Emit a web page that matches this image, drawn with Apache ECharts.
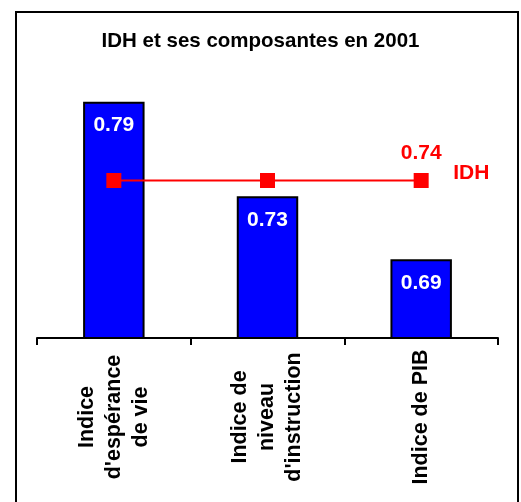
<!DOCTYPE html>
<html>
<head>
<meta charset="utf-8">
<script src="https://cdn.jsdelivr.net/npm/echarts@6/dist/echarts.min.js"></script>
<style>
  html, body { margin: 0; padding: 0; background: #fff; }
  #chart { width: 521px; height: 502px; }
</style>
</head>
<body>
<div id="chart"></div>
<script>
// données
const categories = ["Indice\nd'espérance\nde vie", "Indice de\nniveau\nd'instruction", 'Indice de PIB'];
const composantes = [0.79, 0.73, 0.69];
const idh = [0.74, 0.74, 0.74];

const font = 'Arial, "Liberation Sans", sans-serif';
const chart = echarts.init(document.getElementById('chart'));

const option = {
  animation: false,
  title: {
    text: 'IDH et ses composantes en 2001',
    left: 'center',
    top: 26,
    textStyle: { fontFamily: font, fontSize: 20.5, fontWeight: 'bold', color: '#000' },
  },
  graphic: [
    {
      type: 'rect',
      shape: { x: 16, y: 12, width: 502, height: 500 },
      style: { fill: 'none', stroke: '#000', lineWidth: 2 },
    },
  ],
  grid: { left: 37, right: 23, top: 86, bottom: 164 },
  xAxis: {
    type: 'category',
    data: categories,
    boundaryGap: true,
    axisLine: { lineStyle: { color: '#000', width: 2 } },
    axisTick: { show: true, length: 7, lineStyle: { color: '#000', width: 2 } },
    axisLabel: {
      interval: 0,
      rotate: 90,
      align: 'center',
      verticalAlign: 'middle',
      margin: 79,
      lineHeight: 27,
      fontFamily: font,
      fontSize: 21.5,
      fontWeight: 'bold',
      color: '#000',
    },
  },
  yAxis: {
    type: 'value',
    show: false,
    min: 0.64,
    max: 0.8,
    splitLine: { show: false },
  },
  series: [
    {
      name: 'Composantes',
      type: 'bar',
      data: composantes,
      barWidth: '40%',
      itemStyle: { color: '#0000FF', borderColor: '#000', borderWidth: 2 },
      label: {
        show: true,
        position: 'insideTop',
        distance: 13,
        formatter: (p) => p.value.toFixed(2),
        fontFamily: font,
        fontSize: 21,
        fontWeight: 'bold',
        color: '#fff',
      },
    },
    {
      name: 'IDH',
      type: 'line',
      data: idh.map((v, i) =>
        i === idh.length - 1
          ? { value: v, label: { show: true } }
          : v
      ),
      symbol: 'rect',
      symbolSize: 15,
      itemStyle: { color: '#FF0000' },
      lineStyle: { color: '#FF0000', width: 2 },
      label: {
        show: false,
        position: 'top',
        distance: 9,
        formatter: (p) => p.value.toFixed(2),
        fontFamily: font,
        fontSize: 21,
        fontWeight: 'bold',
        color: '#FF0000',
      },
      endLabel: {
        show: true,
        formatter: '{a}',
        distance: 32,
        offset: [0, -7],
        fontFamily: font,
        fontSize: 21,
        fontWeight: 'bold',
        color: '#FF0000',
      },
    },
  ],
};

chart.setOption(option);
</script>
</body>
</html>
